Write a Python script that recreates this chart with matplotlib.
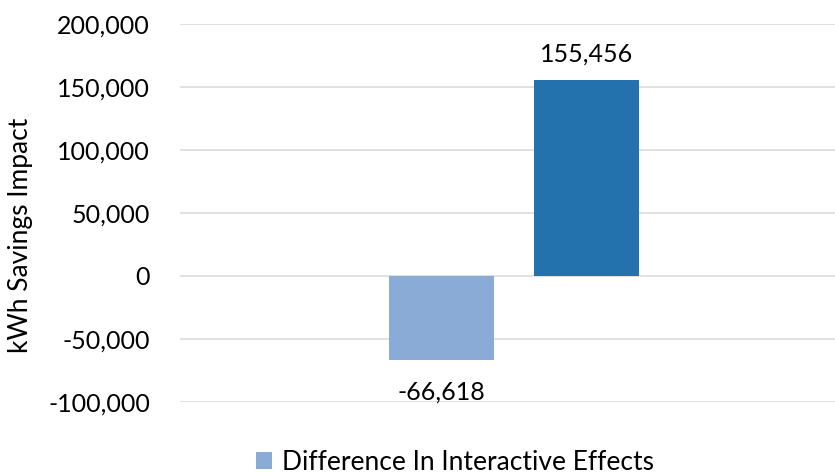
import matplotlib
matplotlib.use("Agg")
import matplotlib.pyplot as plt
from matplotlib.ticker import FuncFormatter

plt.rcParams['font.family'] = ['Lato', 'DejaVu Sans']

# Data
series_names = ["Difference In Interactive Effects", "Net Savings Impact"]
values = [-66618, 155456]
bar_colors = ["#8AABD5", "#2372AE"]
offsets = [-0.109, 0.108]
yticks = [-100000, -50000, 0, 50000, 100000, 150000, 200000]

NUM_SIZE = 18
TEXT_SIZE = 19

fig = plt.figure(figsize=(8.35, 4.75), dpi=100)
ax = fig.add_axes([180 / 835, 73.3 / 475, 669 / 835, 377.7 / 475])

bars = []
for name, v, c, off in zip(series_names, values, bar_colors, offsets):
    b = ax.bar(off, v, width=0.157, color=c, label=name, zorder=3)
    bars.append(b)
    dy = 19 if v >= 0 else -23
    ax.annotate(f"{v:,}", xy=(off, v), xytext=(0, dy), textcoords="offset points",
                ha="center", va="center", fontsize=NUM_SIZE, color="#000000")

ax.set_xlim(-0.5, 0.5)
ax.set_ylim(-100000, 200000)
ax.set_yticks(yticks)
ax.yaxis.set_major_formatter(FuncFormatter(lambda x, p: f"{int(x):,}"))
ax.grid(axis="y", color="#D9D9D9", linewidth=1.1, zorder=0)
ax.set_xticks([])
for s in ax.spines.values():
    s.set_visible(False)
ax.tick_params(axis="y", length=0, pad=21.6, labelsize=NUM_SIZE, labelcolor="#000000")
ax.set_ylabel("kWh Savings Impact", fontsize=TEXT_SIZE)
ax.yaxis.set_label_coords(-0.22, 0.441)

handles = [bars[0]]
fig.legend(handles, [series_names[0]], loc="center", bbox_to_anchor=(455 / 835, 1 - 462 / 475),
           frameon=False, fontsize=TEXT_SIZE, handlelength=0.6, handleheight=0.6, handletextpad=0.35)

fig.savefig("out.png", dpi=100)
